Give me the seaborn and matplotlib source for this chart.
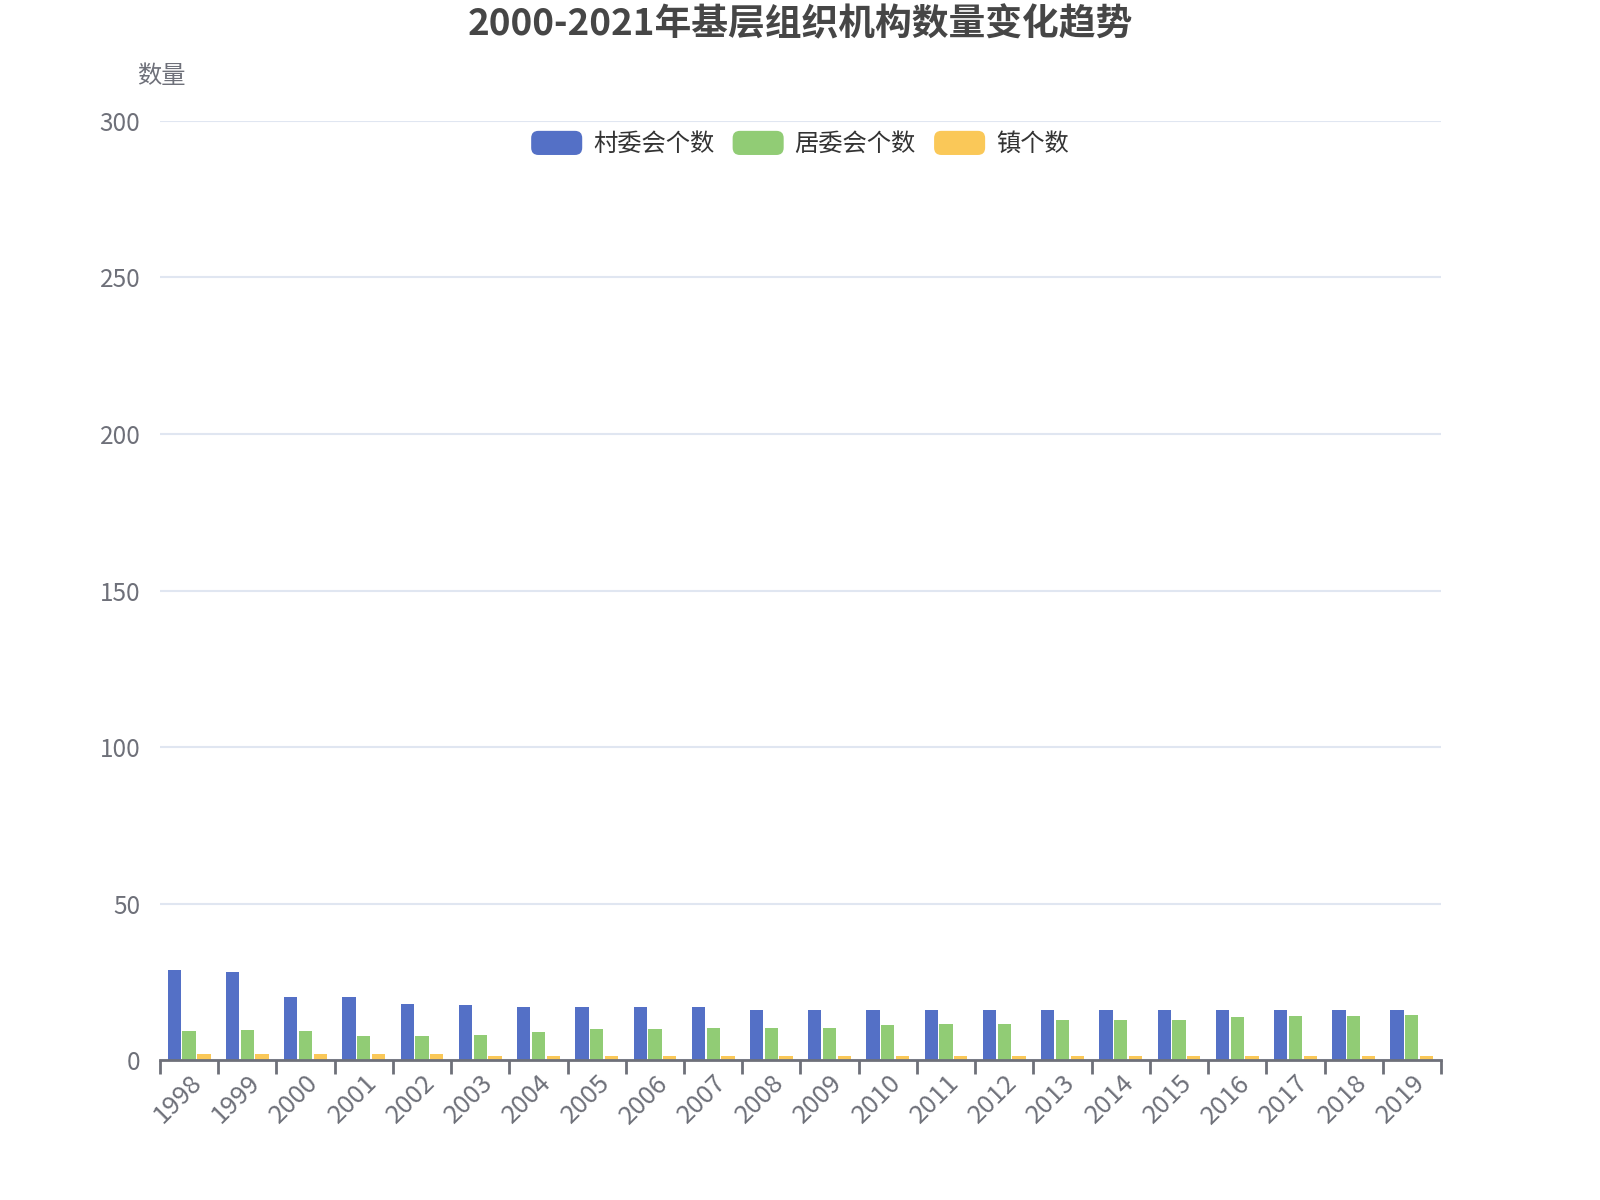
import numpy as np
import pandas as pd

import matplotlib
matplotlib.use("Agg")
import matplotlib.pyplot as plt
import seaborn as sns
from matplotlib.patches import FancyBboxPatch, Patch
from matplotlib.legend_handler import HandlerPatch


# =========================================================
# DATA
# =========================================================

years = [str(y) for y in range(1998, 2020)]

village = [28.8, 28.2, 20.2, 20.2, 18.1, 17.7, 17.0, 17.0, 17.0, 17.0, 16.1,
           16.1, 16.1, 16.1, 16.1, 16.1, 16.1, 16.1, 16.1, 16.1, 16.1, 16.1]

resident = [9.4, 9.8, 9.4, 7.8, 7.8, 8.1, 8.9, 10.0, 10.0, 10.3, 10.3,
            10.3, 11.3, 11.6, 11.6, 12.9, 12.9, 12.9, 13.8, 14.1, 14.2, 14.5]

town = [2.0, 2.0, 2.0, 2.0, 2.0, 1.4, 1.4, 1.4, 1.4, 1.4, 1.4,
        1.4, 1.4, 1.4, 1.4, 1.4, 1.4, 1.4, 1.4, 1.4, 1.4, 1.4]

series_names = ["村委会个数", "居委会个数", "镇个数"]

colors = ["#5470c6", "#91cc75", "#fac858"]

y_ticks = [0, 50, 100, 150, 200, 250, 300]


# =========================================================
# LONG TABLE
# =========================================================

df = pd.DataFrame({
    "year": years * 3,
    "value": village + resident + town,
    "series": (
        [series_names[0]] * len(years)
        + [series_names[1]] * len(years)
        + [series_names[2]] * len(years)
    )
})


# =========================================================
# STYLE
# =========================================================

sns.set_style("white")

plt.rcParams["font.family"] = ["Noto Sans CJK SC", "DejaVu Sans"]

text_gray = "#6e7079"


class RoundBoxHandler(HandlerPatch):

    def create_artists(self, legend, orig_handle, xdescent, ydescent,
                       width, height, fontsize, trans):
        box = FancyBboxPatch(
            (-xdescent, -ydescent), width, height,
            boxstyle="round,pad=0,rounding_size=%f" % (height * 0.3),
            facecolor=orig_handle.get_facecolor(),
            edgecolor="none",
            transform=trans
        )
        return [box]


# =========================================================
# PLOT
# =========================================================

fig = plt.figure(figsize=(16, 12), dpi=100)

ax = fig.add_axes([0.1, 0.1164, 0.8006, 0.7830])

sns.barplot(
    data=df,
    x="year",
    y="value",
    hue="series",
    hue_order=series_names,
    palette=colors,
    saturation=1,
    width=0.76,
    gap=0.1,
    edgecolor="none",
    legend=False,
    ax=ax
)

ax.set_xlim(-0.5, len(years) - 0.5)
ax.set_ylim(0, 300)

ax.set_yticks(y_ticks)
ax.set_yticklabels([str(t) for t in y_ticks])

ax.yaxis.grid(True, color="#e0e6f1", linewidth=1.5)
ax.set_axisbelow(True)

for side in ["top", "right", "left"]:
    ax.spines[side].set_visible(False)

ax.spines["bottom"].set_color(text_gray)
ax.spines["bottom"].set_linewidth(2)

# tick marks at category boundaries, labels at centers
ax.set_xticks(np.arange(-0.5, len(years), 1.0))
ax.set_xticklabels([])
ax.tick_params(axis="x", which="major", bottom=True, length=10, width=2,
               color=text_gray, direction="out")

ax.set_xticks(np.arange(len(years)), minor=True)
ax.set_xticklabels(years, minor=True, rotation=45, ha="right",
                   va="top", rotation_mode="anchor")
ax.tick_params(axis="x", which="minor", bottom=True, length=0, pad=7,
               labelsize=18.5, labelcolor=text_gray)

ax.tick_params(axis="y", length=0, pad=14, labelsize=17.5,
               labelcolor=text_gray)

ax.set_xlabel("")
ax.set_ylabel("")

fig.text(0.101, 0.937, "数量", fontsize=17.5, color=text_gray,
         ha="center", va="center")

fig.text(0.5, 0.979, "2000-2021年基层组织机构数量变化趋势",
         fontsize=26.5, fontweight="bold", color="#464646",
         ha="center", va="center")

handles = [Patch(facecolor=c, label=n) for c, n in zip(colors, series_names)]

fig.legend(
    handles=handles,
    loc="center",
    bbox_to_anchor=(0.5, 0.88),
    ncol=3,
    frameon=False,
    fontsize=17.5,
    labelcolor="#333333",
    handlelength=2.1,
    handleheight=1.15,
    handletextpad=0.45,
    columnspacing=0.75,
    handler_map={Patch: RoundBoxHandler()}
)

plt.savefig("out.png", dpi=100)

plt.close()
